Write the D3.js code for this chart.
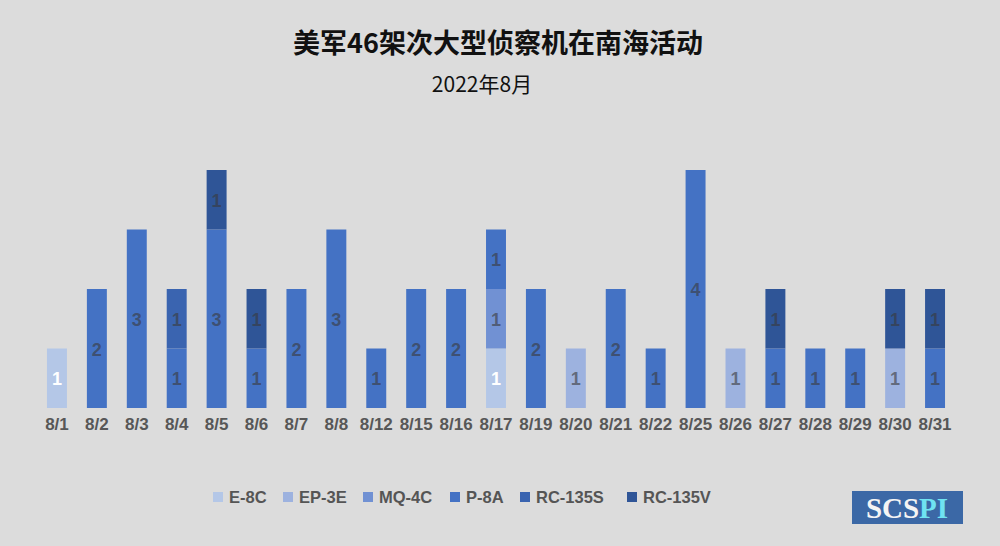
<!DOCTYPE html>
<html>
<head>
<meta charset="utf-8">
<script src="https://cdn.jsdelivr.net/npm/d3@7"></script>
<style>
  html, body { margin: 0; padding: 0; background: #dcdcdc; }
  svg { display: block; }
</style>
</head>
<body>
<div id="chart"></div>
<script>
// ── Data ─────────────────────────────────────────────────────
const DATES = ["8/1", "8/2", "8/3", "8/4", "8/5", "8/6", "8/7", "8/8", "8/12", "8/15", "8/16",
               "8/17", "8/19", "8/20", "8/21", "8/22", "8/25", "8/26", "8/27", "8/28", "8/29", "8/30", "8/31"];
const TYPES = ["E-8C", "EP-3E", "MQ-4C", "P-8A", "RC-135S", "RC-135V"];
const E8C    = [1, 0, 0, 0, 0, 0, 0, 0, 0, 0, 0, 1, 0, 0, 0, 0, 0, 0, 0, 0, 0, 0, 0];
const EP3E   = [0, 0, 0, 0, 0, 0, 0, 0, 0, 0, 0, 0, 0, 1, 0, 0, 0, 1, 0, 0, 0, 1, 0];
const MQ4C   = [0, 0, 0, 0, 0, 0, 0, 0, 0, 0, 0, 1, 0, 0, 0, 0, 0, 0, 0, 0, 0, 0, 0];
const P8A    = [0, 2, 3, 1, 3, 1, 2, 3, 1, 2, 2, 1, 2, 0, 2, 1, 4, 0, 1, 1, 1, 0, 1];
const RC135S = [0, 0, 0, 1, 0, 0, 0, 0, 0, 0, 0, 0, 0, 0, 0, 0, 0, 0, 0, 0, 0, 0, 0];
const RC135V = [0, 0, 0, 0, 1, 1, 0, 0, 0, 0, 0, 0, 0, 0, 0, 0, 0, 0, 1, 0, 0, 1, 1];
const SERIES = [E8C, EP3E, MQ4C, P8A, RC135S, RC135V];
const COLORS = ["#b4c7e7", "#9db2df", "#7191d3", "#4472c4", "#3a64b0", "#2f5597"];

const W = 1000, H = 546;
const svg = d3.select("#chart").append("svg").attr("width", W).attr("height", H);
svg.append("rect").attr("width", W).attr("height", H).attr("fill", "#dcdcdc");

const FONT = "'Liberation Sans', Arial, 'Noto Sans CJK SC', sans-serif";

// ── Titles ───────────────────────────────────────────────────
svg.append("text").attr("x", 498).attr("y", 53).attr("text-anchor", "middle")
  .style("font-family", "'Noto Sans CJK SC', sans-serif").style("font-size", "27px")
  .style("font-weight", "bold").attr("fill", "#111")
  .text("美军46架次大型侦察机在南海活动");
svg.append("text").attr("x", 482).attr("y", 92).attr("text-anchor", "middle")
  .style("font-family", "'Noto Sans CJK SC', sans-serif").style("font-size", "21px")
  .attr("fill", "#111").text("2022年8月");

// ── Scales ───────────────────────────────────────────────────
const x = d3.scaleBand().domain(DATES).range([37, 955]).paddingInner(0.5).paddingOuter(0.25);
const y = d3.scaleLinear().domain([0, 4]).range([408, 170]);

const rows = DATES.map((d, i) => {
  const r = { date: d };
  TYPES.forEach((t, k) => r[t] = SERIES[k][i]);
  return r;
});
const stacked = d3.stack().keys(TYPES)(rows);

// ── Bars ─────────────────────────────────────────────────────
const layers = svg.append("g").selectAll("g").data(stacked).join("g")
  .attr("fill", (d, i) => COLORS[i]);

layers.selectAll("rect").data(d => d.filter(s => s[1] > s[0])).join("rect")
  .attr("x", s => x(s.data.date))
  .attr("width", x.bandwidth())
  .attr("y", s => y(s[1]))
  .attr("height", s => y(s[0]) - y(s[1]));

layers.each(function (layer, i) {
  d3.select(this).selectAll("text").data(layer.filter(s => s[1] > s[0])).join("text")
    .attr("x", s => x(s.data.date) + x.bandwidth() / 2)
    .attr("y", s => (y(s[0]) + y(s[1])) / 2 + 7)
    .attr("text-anchor", "middle")
    .style("font-family", FONT).style("font-size", "18px").style("font-weight", "bold")
    .attr("fill", i === 0 ? "#ffffff" : "#3a3a3a")
    .attr("fill-opacity", i === 0 ? 1 : 0.62)
    .text(s => s[1] - s[0]);
});

// ── X labels ────────────────────────────────────────────────
svg.append("g").selectAll("text").data(DATES).join("text")
  .attr("x", d => x(d) + x.bandwidth() / 2)
  .attr("y", 430)
  .attr("text-anchor", "middle")
  .style("font-family", FONT).style("font-size", "17px").style("font-weight", "bold")
  .attr("fill", "#575757")
  .text(d => d);

// ── Legend ───────────────────────────────────────────────────
const LEG_X = [213, 283, 363, 450, 520, 627];
const legend = svg.append("g").selectAll("g").data(TYPES).join("g")
  .attr("transform", (d, i) => `translate(${LEG_X[i]}, 492)`);
legend.append("rect").attr("width", 10).attr("height", 10).attr("fill", (d, i) => COLORS[i]);
legend.append("text").attr("x", 16).attr("y", 11)
  .style("font-family", FONT).style("font-size", "16.5px").style("font-weight", "bold")
  .attr("fill", "#555").text(d => d);

// ── Logo ─────────────────────────────────────────────────────
svg.append("rect").attr("x", 852).attr("y", 491).attr("width", 111).attr("height", 33)
  .attr("fill", "#3b68a6");
const logo = svg.append("text").attr("x", 907).attr("y", 518).attr("text-anchor", "middle")
  .style("font-family", "'Liberation Serif', 'DejaVu Serif', serif").style("font-size", "29px")
  .style("font-weight", "bold");
logo.append("tspan").attr("fill", "#f4f4f4").text("SCS");
logo.append("tspan").attr("fill", "#6fe3f2").text("PI");
</script>
</body>
</html>
